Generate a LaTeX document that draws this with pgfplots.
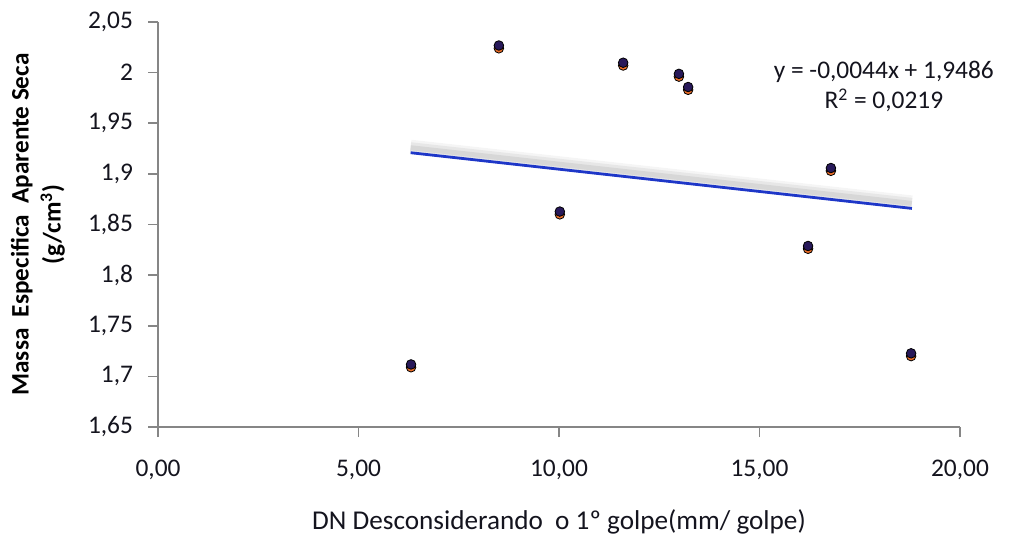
\documentclass[border=0pt]{standalone}
\usepackage{pgfplots}
\pgfplotsset{compat=1.18}
\usepackage{fontspec}
\setmainfont{Carlito}
\definecolor{axgray}{RGB}{134,134,134}
\definecolor{txt}{RGB}{20,20,30}
\definecolor{mnavy}{RGB}{40,25,90}
\definecolor{morange}{RGB}{235,110,40}
\definecolor{tblue}{RGB}{30,55,200}
\begin{document}
\begin{tikzpicture}[x=1bp,y=1bp]
\useasboundingbox (0,0) rectangle (508.5,268);
\begin{axis}[
  at={(79bp,54.5bp)}, anchor=south west,
  scale only axis, width=401bp, height=202.5bp,
  xmin=0, xmax=20, ymin=1.65, ymax=2.05,
  axis x line*=bottom, axis y line*=left,
  axis line style={draw=axgray, line width=0.8bp, -},
  tick style={draw=axgray, line width=0.8bp},
  tick align=outside, major tick length=5bp,
  xtick={0,5,10,15,20},
  xticklabels={{0,00},{5,00},{10,00},{15,00},{20,00}},
  ytick={1.65,1.7,1.75,1.8,1.85,1.9,1.95,2,2.05},
  yticklabels={{1,65},{1,7},{1,75},{1,8},{1,85},{1,9},{1,95},{2},{2,05}},
  ticklabel style={font=\fontsize{12.7bp}{15bp}\selectfont, text=txt},
  xticklabel style={yshift=-8bp},
  yticklabel style={xshift=-4bp},
  xlabel={DN Desconsiderando\ \ o 1\textordmasculine{} golpe(mm/ golpe)},
  xlabel style={at={(axis description cs:0.5,-0.2346)}, anchor=center, font=\fontsize{13.6bp}{15bp}\selectfont, text=txt},
  ylabel={Massa\ \ Especifica\ \ Aparente Seca\\(g/cm\textsuperscript{3})},
  ylabel style={at={(axis description cs:-0.1496,0.5)}, anchor=center, align=center, font=\bfseries\fontsize{12.6bp}{16bp}\selectfont, text=black},
  clip=false,
]
% trend line shadow (soft)
\addplot[draw=gray, line width=7bp, opacity=0.08, yshift=3bp] coordinates {(6.3,1.9209) (18.8,1.8659)};
\addplot[draw=gray, line width=4.5bp, opacity=0.12, yshift=3bp] coordinates {(6.3,1.9209) (18.8,1.8659)};
\addplot[draw=gray, line width=2.5bp, opacity=0.15, yshift=2.5bp] coordinates {(6.3,1.9209) (18.8,1.8659)};
% trend line
\addplot[draw=tblue, line width=1.4bp] coordinates {(6.3,1.9209) (18.8,1.8659)};
% markers: orange lower part
\addplot[only marks, mark=*, mark size=2.4bp, mark options={draw=none, fill=morange, yshift=-1bp}] coordinates {
(6.31,1.711) (8.50,2.026) (10.02,1.862) (11.60,2.009) (12.99,1.998) (13.22,1.985) (16.21,1.828) (16.78,1.905) (18.78,1.722)};
\addplot[only marks, mark=*, mark size=2.4bp, mark options={draw=none, fill=mnavy, yshift=0.4bp}] coordinates {
(6.31,1.711) (8.50,2.026) (10.02,1.862) (11.60,2.009) (12.99,1.998) (13.22,1.985) (16.21,1.828) (16.78,1.905) (18.78,1.722)};
\node[align=center, font=\fontsize{12.7bp}{15bp}\selectfont, text=txt] at (axis cs:18.1,1.986) {y = -0,0044x + 1,9486\\R\textsuperscript{2} = 0,0219};
\end{axis}
\end{tikzpicture}
\end{document}
